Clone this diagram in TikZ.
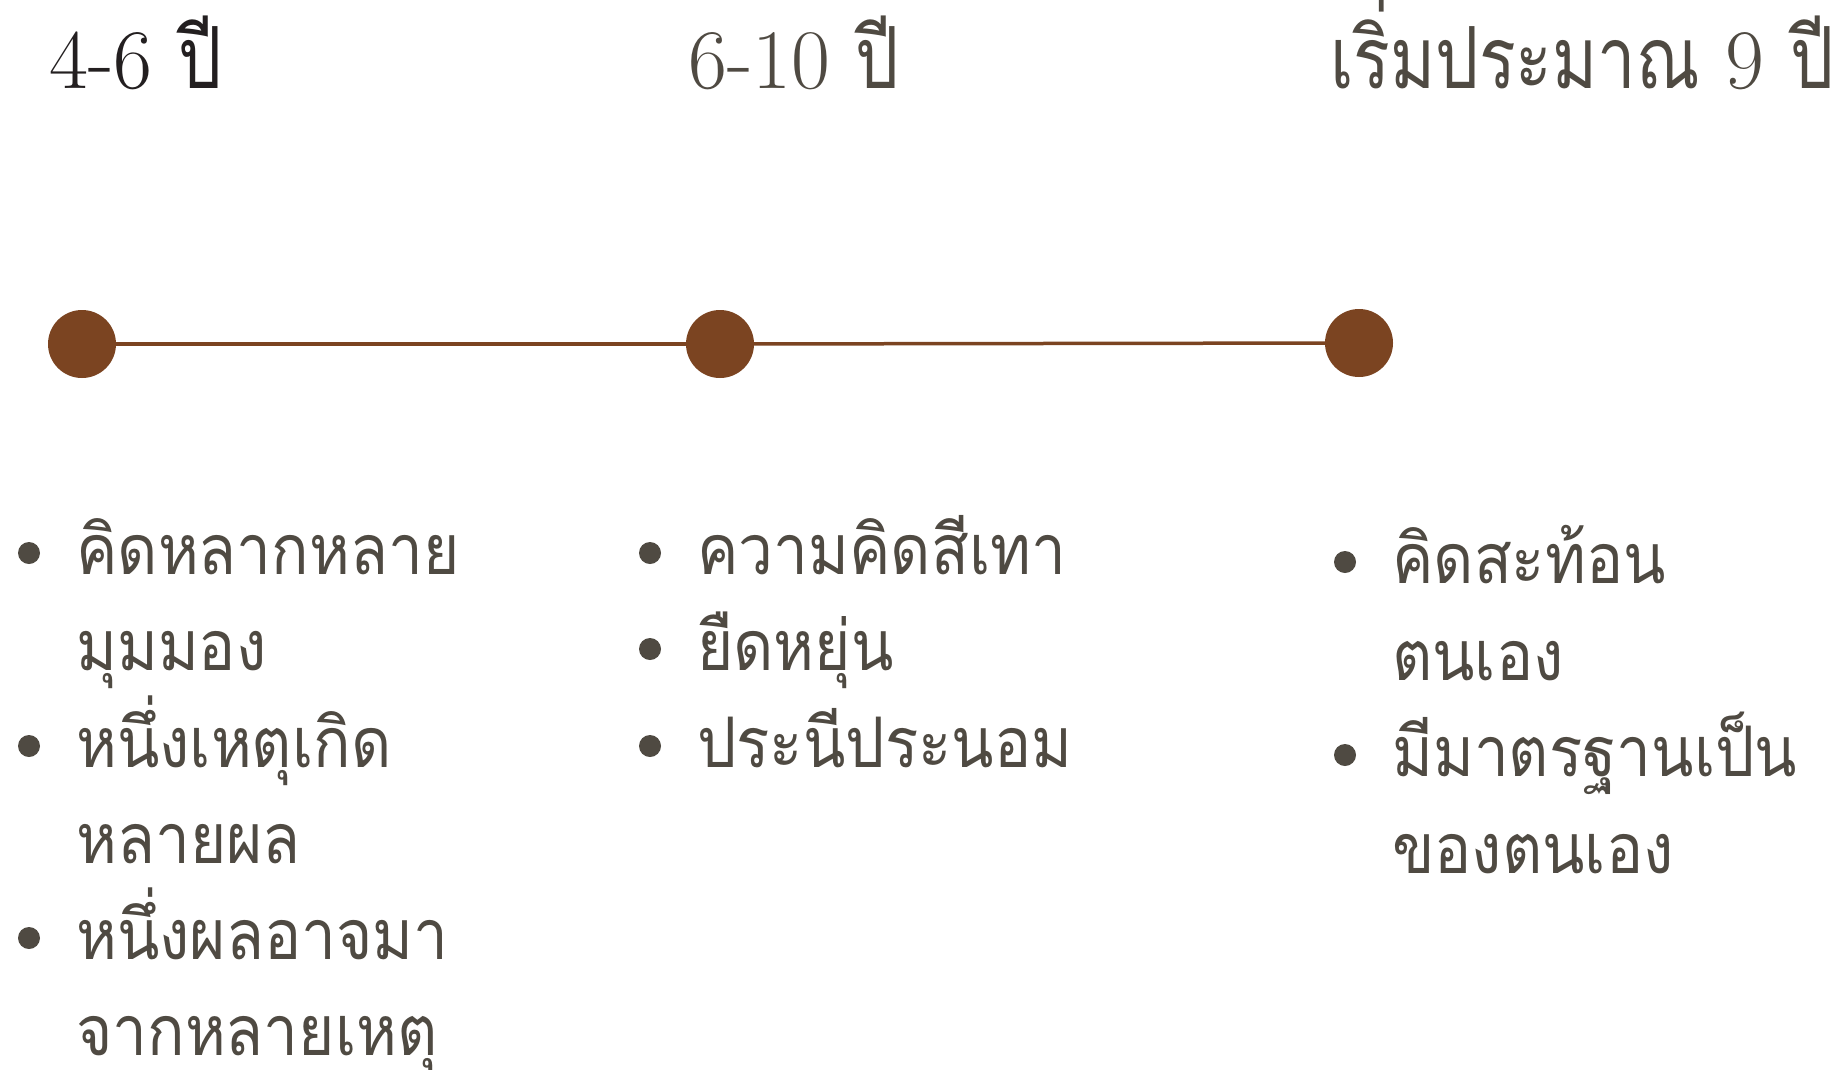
\documentclass[tikz,border=0pt]{standalone}
\usepackage{fontspec}
\newfontfamily\thaifont[Script=Thai,FakeStretch=0.89]{Loma}
\newfontfamily\thaihead[Script=Thai,FakeStretch=0.8]{Loma}
\definecolor{txtc}{HTML}{4F4A42}
\definecolor{darkc}{HTML}{231F20}
\definecolor{brownc}{HTML}{7B4421}
\begin{document}
\begin{tikzpicture}[x=1bp,y=-1bp,
  dotnode/.style={circle, fill=brownc, minimum size=68bp, inner sep=0pt},
  bulnode/.style={circle, fill=txtc, minimum size=22bp, inner sep=0pt},
  itemtext/.style={anchor=base west, inner sep=0pt, text=txtc, font=\thaifont\fontsize{70}{96}\selectfont},
  headtext/.style={anchor=base west, inner sep=0pt, text=txtc, font=\fontsize{85}{90}\selectfont},
]
\fill[white] (0,0) rectangle (1837,1069);
\useasboundingbox (0,0) rectangle (1837,1069);
% headings
\node[headtext, text=darkc] (h1) at (49,88) {4-6 {\thaihead\fontsize{86}{90}\selectfont ปี}};
\node[headtext] (h2) at (688,88) {6-10 {\thaihead\fontsize{86}{90}\selectfont ปี}};
\node[headtext] (h3) at (1330,88) {{\thaihead\fontsize{86}{90}\selectfont เริ่มประมาณ} 9 {\thaihead\fontsize{86}{90}\selectfont ปี}};
% timeline
\node[dotnode] (d1) at (82,344) {};
\node[dotnode] (d2) at (720,344) {};
\node[dotnode] (d3) at (1359,343) {};
\draw[brownc, line width=3.5bp] (d1) -- (d2);
\draw[brownc, line width=3.5bp] (d2) -- (d3);
% column 1
\node[bulnode] (b11) at (29,553) {};
\node[itemtext] (t11) at (76,574) {คิดหลากหลาย};
\node[itemtext] (t12) at (76,670) {มุมมอง};
\node[bulnode] (b12) at (29,746) {};
\node[itemtext] (t13) at (76,767) {หนึ่งเหตุเกิด};
\node[itemtext] (t14) at (76,863) {หลายผล};
\node[bulnode] (b13) at (29,938) {};
\node[itemtext] (t15) at (76,959) {หนึ่งผลอาจมา};
\node[itemtext] (t16) at (76,1055) {จากหลายเหตุ};
% column 2
\node[bulnode] (b21) at (650,553) {};
\node[itemtext] (t21) at (697,574) {ความคิดสีเทา};
\node[bulnode] (b22) at (650,649) {};
\node[itemtext] (t22) at (697,670) {ยืดหยุ่น};
\node[bulnode] (b23) at (650,746) {};
\node[itemtext] (t23) at (697,767) {ประนีประนอม};
% column 3
\node[bulnode] (b31) at (1345,562) {};
\node[itemtext] (t31) at (1392,583) {คิดสะท้อน};
\node[itemtext] (t32) at (1392,680) {ตนเอง};
\node[bulnode] (b32) at (1345,755) {};
\node[itemtext] (t33) at (1392,776) {มีมาตรฐานเป็น};
\node[itemtext] (t34) at (1392,873) {ของตนเอง};
\end{tikzpicture}
\end{document}
